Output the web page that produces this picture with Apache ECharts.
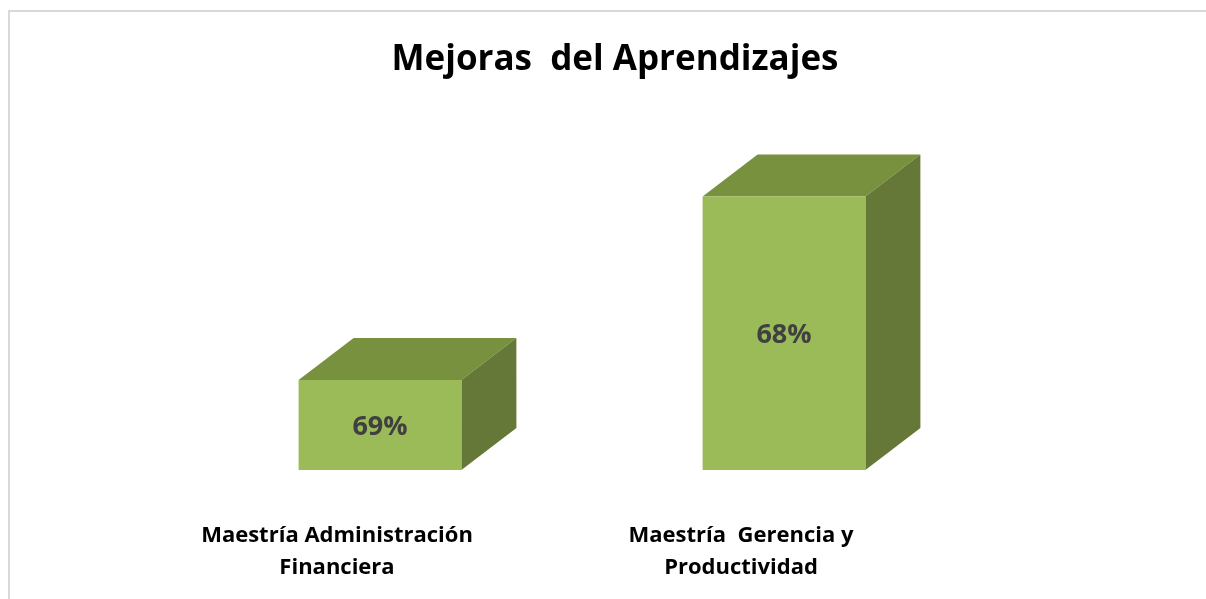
<!DOCTYPE html>
<html>
<head>
<meta charset="utf-8">
<script src="https://cdn.jsdelivr.net/npm/echarts@6/dist/echarts.min.js"></script>
<style>
  html, body { margin: 0; padding: 0; background: #fff; }
  #main { width: 1206px; height: 599px; }
</style>
</head>
<body>
<div id="main"></div>
<script>
// datos
var categories = ['Maestría Administración\nFinanciera', 'Maestría  Gerencia y\nProductividad'];
var barValues = [25, 76];
var barLabels = ['69%', '68%'];

var chart = echarts.init(document.getElementById('main'));

// cara frontal, superior y lateral de cada barra 3D
function renderBox(params, api) {
  var idx = api.value(0);
  var base = api.coord([idx, 0]);
  var top = api.coord([idx, api.value(1)]);
  var bandW = api.size([1, 0])[0];
  var w = bandW * 0.403;
  var cx = base[0] + 43;
  var x0 = cx - w / 2, x1 = cx + w / 2;
  var y0 = top[1], y1 = base[1];
  var dx = 55, dy = 42;
  return {
    type: 'group',
    children: [
      {
        type: 'polygon',
        shape: { points: [[x0, y0], [x0 + dx, y0 - dy], [x1 + dx, y0 - dy], [x1, y0]] },
        style: { fill: '#77913f' }
      },
      {
        type: 'polygon',
        shape: { points: [[x1, y0], [x1 + dx, y0 - dy], [x1 + dx, y1 - dy], [x1, y1]] },
        style: { fill: '#657837' }
      },
      {
        type: 'rect',
        shape: { x: x0, y: y0, width: w, height: y1 - y0 },
        style: { fill: '#9bbb59' },
        textContent: {
          style: {
            text: barLabels[idx],
            fill: '#404040',
            font: 'bold 27px "Open Sans"'
          }
        },
        textConfig: { position: 'inside', offset: [0, 2] }
      }
    ]
  };
}

chart.setOption({
  backgroundColor: '#fff',
  title: {
    text: 'Mejoras  del Aprendizajes',
    left: 610,
    top: 38,
    textAlign: 'center',
    textStyle: { fontFamily: 'Open Sans', fontWeight: 'bold', fontSize: 35, color: '#000' }
  },
  graphic: [{
    type: 'polyline',
    shape: { points: [[9, 599], [9, 11], [1206, 11]] },
    style: { stroke: '#d9d9d9', lineWidth: 2, fill: null }
  }],
  grid: { left: 135, right: 263, top: 110, bottom: 129 },
  xAxis: {
    type: 'category',
    data: categories,
    axisLine: { show: false },
    axisTick: { show: false },
    axisLabel: {
      margin: 50,
      interval: 0,
      fontFamily: 'Open Sans',
      fontWeight: 'bold',
      fontSize: 22,
      lineHeight: 32,
      color: '#000'
    }
  },
  yAxis: {
    type: 'value',
    min: 0,
    max: 100,
    show: false
  },
  series: [{
    type: 'custom',
    renderItem: renderBox,
    data: barValues.map(function (v, i) { return [i, v]; }),
    encode: { x: 0, y: 1 }
  }]
});
</script>
</body>
</html>
